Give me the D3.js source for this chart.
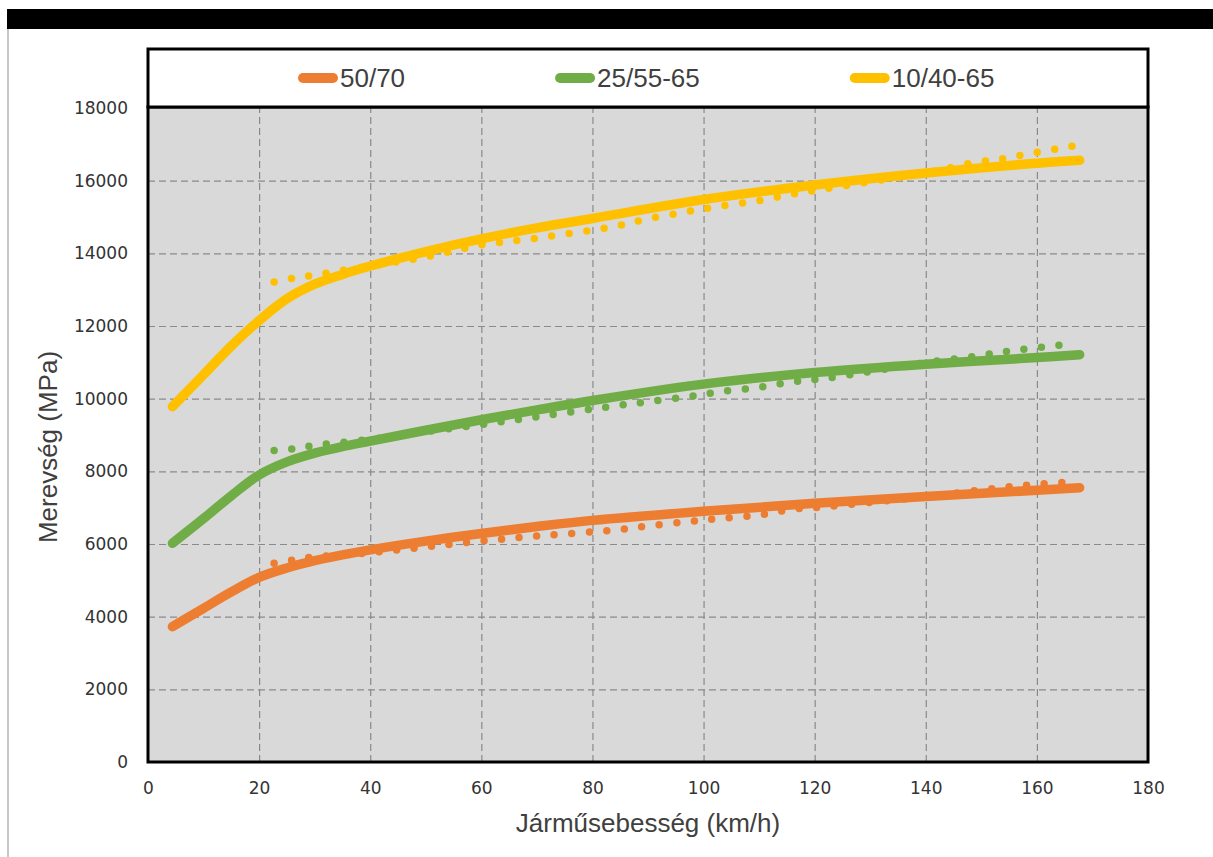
<!DOCTYPE html>
<html>
  <head>
    <meta charset="utf-8">
    <title>Merevség</title>
    <style>
      body { margin: 0; background: #fff; }
      .tick text { font-family: "DejaVu Sans", Verdana, sans-serif; font-size: 17px; fill: #333; }
      .grid line { stroke: #8a8a8a; stroke-width: 1.2; stroke-dasharray: 7,4; }
      .grid path { display: none; }
      .title { font-family: "Liberation Sans", Arial, sans-serif; font-size: 26px; fill: #404040; }
    </style>
  </head>
  <body>
  <svg id="chart"></svg>
  <script src="https://d3js.org/d3.v7.min.js"></script>
  <script>
    // legend labels and colours
    var seriesNames = ["50/70", "25/55-65", "10/40-65"];
    var seriesColors = ["#ED7D31", "#70AD47", "#FFC000"];

    // axis ticks
    var xTicks = [0, 20, 40, 60, 80, 100, 120, 140, 160, 180];
    var yTicks = [0, 2000, 4000, 6000, 8000, 10000, 12000, 14000, 16000, 18000];

    // solid curves (speed km/h, stiffness MPa)
    var solidX = [4.4, 10, 15, 20, 25, 30, 35, 40, 50, 60, 70, 80, 100, 120, 140, 160, 167.7];
    var solid5070 = [3725, 4230, 4680, 5080, 5340, 5540, 5700, 5840, 6080, 6290, 6480, 6650, 6900, 7120, 7310, 7480, 7550];
    var solid2555 = [6020, 6700, 7330, 7900, 8260, 8500, 8680, 8830, 9130, 9420, 9690, 9950, 10400, 10720, 10950, 11130, 11210];
    var solid1040 = [9780, 10660, 11450, 12150, 12750, 13150, 13420, 13650, 14050, 14400, 14700, 14960, 15480, 15880, 16210, 16480, 16560];

    // dotted curves
    var dotX = [22.7, 26, 29.2, 40, 50, 60, 70, 84, 90, 97, 103, 110, 116, 122, 141, 148, 154, 160, 166.5];
    var dot5070 = [5470, 5560, 5630, 5760, 5920, 6080, 6220, 6385, 6495, 6615, 6705, 6800, 6955, 7025, 7320, 7450, 7560, 7640, 7715];
    var dot2555 = [8570, 8615, 8697, 8880, 9090, 9290, 9500, 9800, 9915, 10050, 10190, 10310, 10465, 10560, 11015, 11150, 11290, 11400, 11520];
    var dot1040 = [13210, 13310, 13385, 13650, 13900, 14230, 14420, 14740, 14950, 15145, 15300, 15450, 15630, 15780, 16245, 16475, 16610, 16780, 16950];

    var solids = [solid5070, solid2555, solid1040];
    var dots = [dot5070, dot2555, dot1040];

    var W = 1213, H = 857;
    var pLeft = 148, pRight = 1148, pTop = 108, pBottom = 762;

    var svg = d3.select("#chart").attr("width", W).attr("height", H);

    // black band at top and grey frame line on the left
    svg.append("rect").attr("x", 7).attr("y", 9).attr("width", W - 7).attr("height", 20).attr("fill", "#000");
    svg.append("line").attr("x1", 8).attr("x2", 8).attr("y1", 29).attr("y2", H)
      .attr("stroke", "#c8c8c8").attr("stroke-width", 2);

    var x = d3.scaleLinear().domain([0, 180]).range([pLeft, pRight]);
    var y = d3.scaleLinear().domain([0, 18000]).range([pBottom, pTop]);

    // plot area
    svg.append("rect").attr("x", pLeft).attr("y", pTop - 1).attr("width", pRight - pLeft).attr("height", pBottom - pTop + 1)
      .attr("fill", "#d9d9d9");

    // grid
    svg.append("g").attr("class", "grid")
      .attr("transform", "translate(0," + pBottom + ")")
      .call(d3.axisBottom(x).tickValues(xTicks.slice(1, -1)).tickSize(-(pBottom - pTop)).tickFormat(""));
    svg.append("g").attr("class", "grid")
      .attr("transform", "translate(" + pLeft + ",0)")
      .call(d3.axisLeft(y).tickValues(yTicks.slice(1, -1)).tickSize(-(pRight - pLeft)).tickFormat(""));

    // axis labels
    var xAxis = svg.append("g").attr("transform", "translate(0," + pBottom + ")")
      .call(d3.axisBottom(x).tickValues(xTicks).tickSize(0).tickPadding(20));
    xAxis.select(".domain").remove();
    var yAxis = svg.append("g").attr("transform", "translate(" + pLeft + ",0)")
      .call(d3.axisLeft(y).tickValues(yTicks).tickSize(0).tickPadding(20).tickFormat(d3.format("d")));
    yAxis.select(".domain").remove();

    // curves
    var line = d3.line()
      .x(function(d) { return x(d[0]); })
      .y(function(d) { return y(d[1]); })
      .curve(d3.curveCatmullRom.alpha(0.5));

    var plot = svg.append("g");
    for (var i = 0; i < 3; i++) {
      var dd = dotX.map(function(v, j) { return [v, dots[i][j]]; });
      plot.append("path").attr("d", line(dd))
        .attr("fill", "none").attr("stroke", seriesColors[i])
        .attr("stroke-width", 7.5).attr("stroke-linecap", "round")
        .attr("stroke-dasharray", "0 17.6");
      var sd = solidX.map(function(v, j) { return [v, solids[i][j]]; });
      plot.append("path").attr("d", line(sd))
        .attr("fill", "none").attr("stroke", seriesColors[i])
        .attr("stroke-width", 9.5).attr("stroke-linecap", "round").attr("stroke-linejoin", "round");
    }

    // plot border
    svg.append("rect").attr("x", pLeft).attr("y", pTop - 1).attr("width", pRight - pLeft).attr("height", pBottom - pTop + 1)
      .attr("fill", "none").attr("stroke", "#000").attr("stroke-width", 3);

    // legend box
    svg.append("rect").attr("x", pLeft).attr("y", 49).attr("width", pRight - pLeft).attr("height", pTop - 1 - 49)
      .attr("fill", "#fff").attr("stroke", "#000").attr("stroke-width", 3);

    var lx = 298;
    seriesNames.forEach(function(name, i) {
      svg.append("line").attr("x1", lx + 5).attr("x2", lx + 35).attr("y1", 78).attr("y2", 78)
        .attr("stroke", seriesColors[i]).attr("stroke-width", 10).attr("stroke-linecap", "round");
      var t = svg.append("text").attr("class", "title").attr("x", lx + 42).attr("y", 87).text(name);
      lx = lx + 42 + t.node().getComputedTextLength() + 150;
    });

    // axis titles
    svg.append("text").attr("class", "title").attr("x", 648).attr("y", 832)
      .attr("text-anchor", "middle").text("Járműsebesség (km/h)");
    svg.append("text").attr("class", "title")
      .attr("transform", "translate(57,447) rotate(-90)")
      .attr("text-anchor", "middle").text("Merevség (MPa)");
  </script>
  </body>
</html>
